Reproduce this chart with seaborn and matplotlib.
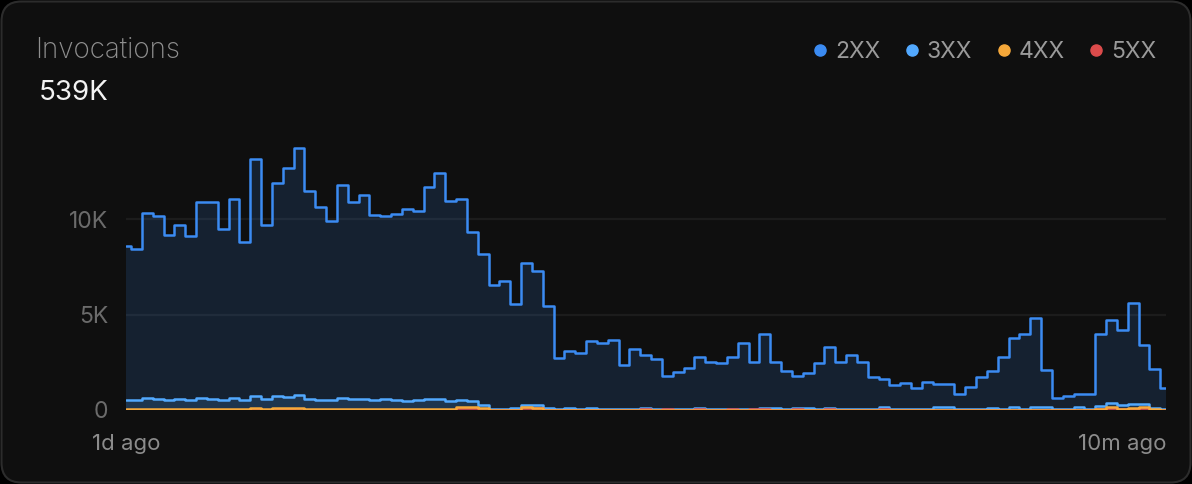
import numpy as np
import pandas as pd
import matplotlib
matplotlib.use('Agg')
import matplotlib.pyplot as plt
from matplotlib.patches import FancyBboxPatch
from matplotlib.lines import Line2D
from matplotlib.transforms import IdentityTransform
import seaborn as sns

# 15-minute buckets over the last 24h, values in thousands of invocations
status_2xx = [8.6, 8.43, 10.3, 10.16, 9.14, 9.67, 9.09, 10.87, 10.9, 9.46,
              11.05, 8.81, 13.16, 9.69, 11.9, 12.65, 13.72, 11.47, 10.65, 9.91,
              11.76, 10.87, 11.24, 10.23, 10.14, 10.28, 10.52, 10.44, 11.69, 12.39,
              10.94, 11.06, 9.3, 8.17, 6.54, 6.77, 5.53, 7.71, 7.28, 5.43,
              2.72, 3.09, 2.98, 3.63, 3.52, 3.66, 2.36, 3.21, 2.86, 2.67,
              1.8, 2.01, 2.21, 2.76, 2.5, 2.44, 2.79, 3.51, 2.53, 3.96,
              2.5, 2.04, 1.8, 1.95, 2.46, 3.31, 2.51, 2.9, 2.5, 1.71,
              1.6, 1.33, 1.41, 1.13, 1.48, 1.34, 1.34, 0.85, 1.19, 1.74,
              2.04, 2.77, 3.75, 3.99, 4.83, 2.11, 0.61, 0.73, 0.84, 0.84,
              3.96, 4.73, 4.2, 5.62, 3.4, 2.15, 1.17]
status_3xx = [0.52, 0.52, 0.61, 0.58, 0.52, 0.59, 0.54, 0.63, 0.58, 0.51,
              0.63, 0.52, 0.71, 0.56, 0.71, 0.66, 0.77, 0.56, 0.52, 0.51,
              0.64, 0.59, 0.58, 0.54, 0.56, 0.51, 0.49, 0.51, 0.58, 0.59,
              0.45, 0.52, 0.45, 0.24, 0.05, 0.05, 0.1, 0.24, 0.24, 0.1,
              0.05, 0.08, 0.05, 0.12, 0.06, 0.06, 0.05, 0.06, 0.12, 0.06,
              0.05, 0.05, 0.05, 0.12, 0.06, 0.05, 0.05, 0.05, 0.06, 0.12,
              0.12, 0.05, 0.12, 0.12, 0.05, 0.12, 0.05, 0.05, 0.05, 0.05,
              0.14, 0.05, 0.05, 0.05, 0.06, 0.14, 0.14, 0.05, 0.05, 0.05,
              0.12, 0.05, 0.14, 0.05, 0.14, 0.14, 0.05, 0.05, 0.14, 0.05,
              0.23, 0.37, 0.24, 0.31, 0.29, 0.1, 0.05]
status_4xx = [0.06, 0.06, 0.06, 0.06, 0.06, 0.06, 0.06, 0.06, 0.06, 0.06,
              0.06, 0.06, 0.09, 0.06, 0.09, 0.09, 0.08, 0.06, 0.06, 0.06,
              0.06, 0.06, 0.06, 0.06, 0.06, 0.06, 0.06, 0.06, 0.06, 0.06,
              0.06, 0.14, 0.14, 0.12, 0.02, 0.02, 0.02, 0.15, 0.12, 0.02,
              0.02, 0.02, 0.02, 0.02, 0.02, 0.02, 0.02, 0.02, 0.02, 0.02,
              0.02, 0.02, 0.02, 0.02, 0.02, 0.02, 0.02, 0.02, 0.02, 0.02,
              0.02, 0.02, 0.02, 0.02, 0.02, 0.02, 0.02, 0.02, 0.02, 0.02,
              0.02, 0.02, 0.02, 0.02, 0.02, 0.02, 0.02, 0.02, 0.02, 0.02,
              0.02, 0.02, 0.02, 0.02, 0.02, 0.02, 0.02, 0.02, 0.02, 0.02,
              0.07, 0.17, 0.07, 0.1, 0.17, 0.03, 0.0]
status_5xx = [0.02, 0.02, 0.02, 0.02, 0.02, 0.02, 0.02, 0.02, 0.02, 0.02,
              0.02, 0.02, 0.05, 0.02, 0.05, 0.05, 0.02, 0.02, 0.02, 0.02,
              0.02, 0.02, 0.02, 0.02, 0.02, 0.02, 0.02, 0.02, 0.02, 0.02,
              0.02, 0.12, 0.12, 0.02, 0.01, 0.01, 0.01, 0.12, 0.12, 0.01,
              0.01, 0.01, 0.01, 0.01, 0.01, 0.01, 0.01, 0.01, 0.03, 0.01,
              0.03, 0.01, 0.01, 0.03, 0.01, 0.01, 0.03, 0.01, 0.03, 0.03,
              0.01, 0.01, 0.03, 0.01, 0.01, 0.03, 0.01, 0.01, 0.01, 0.01,
              0.03, 0.01, 0.01, 0.01, 0.01, 0.01, 0.01, 0.01, 0.01, 0.01,
              0.01, 0.01, 0.01, 0.01, 0.01, 0.01, 0.01, 0.01, 0.01, 0.01,
              0.04, 0.1, 0.04, 0.04, 0.12, 0.02, 0.0]

statuses = ['2XX', '3XX', '4XX', '5XX']
colors = {'2XX': '#3b8bf2', '3XX': '#52a9ff', '4XX': '#f5a83a', '5XX': '#dc4b4b'}
x_labels = ['1d ago', '10m ago']
y_ticks = [0, 5000, 10000]
y_labels = ['0', '5K', '10K']
total_label = '539K'

# bucket start times in minutes (first bucket is cut by the window edge)
starts = np.concatenate([[0], 7 + 15 * np.arange(len(status_2xx) - 1)])
t = np.append(starts, 1440)

series = {'2XX': status_2xx, '3XX': status_3xx, '4XX': status_4xx, '5XX': status_5xx}
rows = []
for name, vals in series.items():
    v = np.append(vals, vals[-1]) * 1000
    rows.append(pd.DataFrame({'t': t, 'value': v, 'status': name}))
df = pd.concat(rows, ignore_index=True)

sns.set_theme(style='dark')
plt.rcParams['font.family'] = ['Inter', 'DejaVu Sans']

W, H = 1192, 484
fig = plt.figure(figsize=(W / 100, H / 100), dpi=100, facecolor='black')

card = FancyBboxPatch((1.5, 1.5), W - 3, H - 3, boxstyle='round,pad=0,rounding_size=20',
                      transform=IdentityTransform(), facecolor='#0f0f0f',
                      edgecolor='#2c2c2c', linewidth=1.5, zorder=-1)
fig.add_artist(card)

ax = fig.add_axes([126 / W, 74 / H, 1040 / W, 280 / H])
ax.set_facecolor('none')

for name in ['2XX', '3XX', '5XX', '4XX']:
    sub = df[df['status'] == name]
    ax.fill_between(sub['t'], sub['value'], step='post', color=colors[name],
                    alpha=0.15, linewidth=0)

sns.lineplot(data=df, x='t', y='value', hue='status', hue_order=['2XX', '3XX', '5XX', '4XX'],
             palette=colors, drawstyle='steps-post', linewidth=1.8, estimator=None,
             legend=False, ax=ax)

ax.set_xlim(0, 1440)
ax.set_ylim(0, 14660)
ax.set_xlabel('')
ax.set_ylabel('')
ax.set_yticks(y_ticks)
ax.set_yticklabels(y_labels)
ax.set_xticks([0, 1440])
ax.set_xticklabels(x_labels)
ax.tick_params(axis='y', length=0, pad=13, labelsize=16.5, labelcolor='#6b6b6b')
ax.tick_params(axis='x', length=0, pad=17, labelsize=16, labelcolor='#8c8c8c')
xl = ax.get_xticklabels()
xl[0].set_ha('center')
xl[1].set_ha('right')
ax.grid(False)
for y in y_ticks[1:]:
    ax.axhline(y, color='#1c1c1c', linewidth=1.6, zorder=0)
for s in ax.spines.values():
    s.set_visible(False)

fig.text(35 / W, 1 - 58 / H, 'Invocations', ha='left', va='baseline',
         fontsize=20, color='#8f8f8f', fontweight='light')
fig.text(39 / W, 1 - 100 / H, total_label, ha='left', va='baseline',
         fontsize=20, color='#f2f2f2')

dot_x = [820, 912, 1004, 1096]
for name, x in zip(statuses, dot_x):
    fig.add_artist(Line2D([x], [H - 50], marker='o', markersize=8, linestyle='none',
                          color=colors[name], transform=IdentityTransform()))
    fig.text((x + 15) / W, 1 - 58 / H, name, ha='left', va='baseline',
             fontsize=16.5, color='#9a9a9a')

fig.savefig('out.png', dpi=100, facecolor='black')
